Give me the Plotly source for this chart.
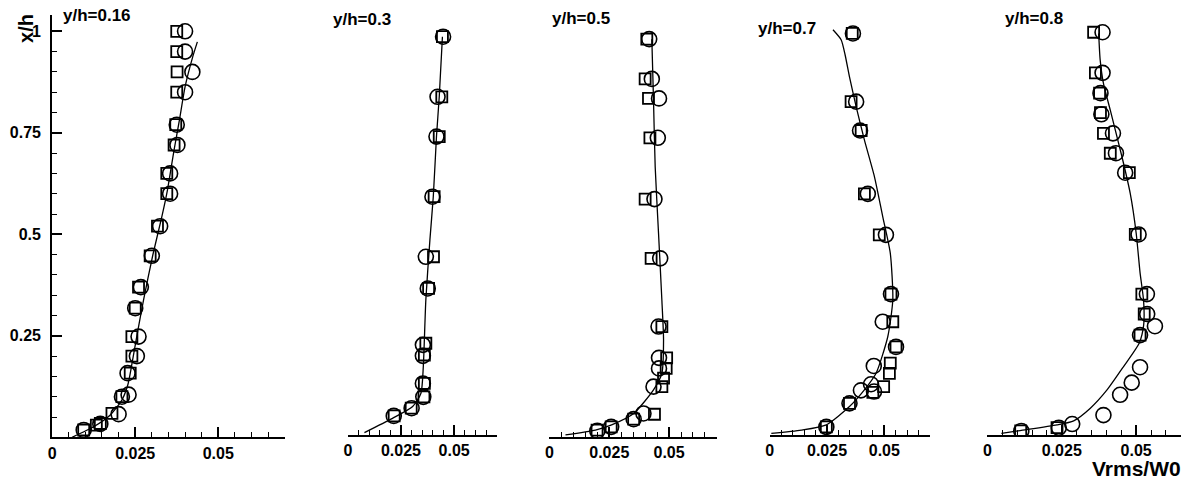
import plotly.graph_objects as go

W, H = 1188, 482

# ---- profile data: Vrms/W0 against x/h at five spanwise stations ----
titles = ["y/h=0.16", "y/h=0.3", "y/h=0.5", "y/h=0.7", "y/h=0.8"]
x_ticks = [0, 0.025, 0.05]
x_tick_labels = ["0", "0.025", "0.05"]
y_ticks = [0.25, 0.5, 0.75, 1.0]
y_tick_labels = ["0.25", "0.5", "0.75", "1"]

# y/h = 0.16
p1_sq_x = [0.0375, 0.0375, 0.0376, 0.0375, 0.0372, 0.0367, 0.0345, 0.0345, 0.0317, 0.0295,
           0.026, 0.025, 0.024, 0.024, 0.0235, 0.021, 0.018, 0.0145, 0.0133, 0.0095]
p1_sq_y = [1.0, 0.95, 0.90, 0.85, 0.77, 0.72, 0.65, 0.60, 0.52, 0.447,
           0.37, 0.318, 0.248, 0.20, 0.158, 0.10, 0.059, 0.034, 0.03, 0.018]
p1_ci_x = [0.040, 0.040, 0.0422, 0.040, 0.0375, 0.0377, 0.0355, 0.0355, 0.0325, 0.030,
           0.0267, 0.025, 0.026, 0.0255, 0.0227, 0.023, 0.021, 0.020, 0.0145, 0.0095]
p1_ci_y = [1.0, 0.95, 0.90, 0.85, 0.77, 0.72, 0.65, 0.60, 0.52, 0.447,
           0.37, 0.318, 0.248, 0.20, 0.158, 0.105, 0.10, 0.057, 0.033, 0.018]
p1_ln_x = [0.006, 0.0125, 0.0175, 0.021, 0.0228, 0.024, 0.0255, 0.0275, 0.0303, 0.033,
           0.0347, 0.0367, 0.0383, 0.040, 0.0423, 0.0437]
p1_ln_y = [0.0, 0.026, 0.055, 0.092, 0.13, 0.18, 0.25, 0.338, 0.449, 0.543,
           0.609, 0.708, 0.781, 0.863, 0.937, 0.974]

# y/h = 0.3
p2_sq_x = [0.0445, 0.0442, 0.043, 0.0406, 0.0403, 0.038, 0.0367, 0.036, 0.036, 0.0358, 0.0298, 0.0218]
p2_sq_y = [0.981, 0.833, 0.735, 0.587, 0.439, 0.361, 0.226, 0.197, 0.127, 0.094, 0.066, 0.047]
p2_ci_x = [0.0448, 0.0422, 0.0417, 0.0398, 0.0367, 0.0376, 0.0353, 0.0353, 0.0353, 0.0355, 0.030, 0.0216]
p2_ci_y = [0.981, 0.833, 0.735, 0.587, 0.439, 0.361, 0.222, 0.195, 0.127, 0.094, 0.066, 0.047]
p2_ln_x = [0.0078, 0.021, 0.0305, 0.0344, 0.0355, 0.0367, 0.0386, 0.0402, 0.0417, 0.043, 0.0445]
p2_ln_y = [0.006, 0.041, 0.07, 0.103, 0.168, 0.333, 0.48, 0.587, 0.735, 0.833, 0.981]

# y/h = 0.5
p3_sq_x = [0.0407, 0.040, 0.0414, 0.042, 0.040, 0.0425, 0.047, 0.049, 0.0488, 0.0477,
           0.047, 0.0439, 0.0352, 0.0258, 0.0199]
p3_sq_y = [0.98, 0.882, 0.834, 0.737, 0.586, 0.44, 0.272, 0.195, 0.169, 0.145,
           0.124, 0.056, 0.044, 0.025, 0.017]
p3_ci_x = [0.0417, 0.0428, 0.0458, 0.0453, 0.0439, 0.0463, 0.0456, 0.0458, 0.0458, 0.0435,
           0.0393, 0.0352, 0.0258, 0.0200]
p3_ci_y = [0.98, 0.882, 0.834, 0.737, 0.586, 0.44, 0.272, 0.195, 0.169, 0.124,
           0.058, 0.044, 0.025, 0.015]
p3_ln_x = [0.0067, 0.0192, 0.026, 0.0352, 0.0435, 0.047, 0.0477, 0.047, 0.0456, 0.0442, 0.0435, 0.0428]
p3_ln_y = [0.005, 0.017, 0.03, 0.058, 0.116, 0.157, 0.239, 0.337, 0.502, 0.666, 0.83, 0.98]

# y/h = 0.7
p4_sq_x = [0.0360, 0.0355, 0.0399, 0.0413, 0.0478, 0.0529, 0.0537, 0.0551, 0.0526, 0.0522,
           0.0497, 0.045, 0.0348, 0.0247]
p4_sq_y = [0.989, 0.821, 0.75, 0.594, 0.493, 0.347, 0.279, 0.217, 0.177, 0.152,
           0.119, 0.105, 0.078, 0.02]
p4_ci_x = [0.0363, 0.0377, 0.0394, 0.0428, 0.0507, 0.0529, 0.0493, 0.0551, 0.0454, 0.0442,
           0.0455, 0.0398, 0.0348, 0.0247]
p4_ci_y = [0.989, 0.821, 0.75, 0.594, 0.493, 0.347, 0.279, 0.217, 0.17, 0.125,
           0.107, 0.11, 0.078, 0.02]
p4_ln_x = [0.0007, 0.0138, 0.0247, 0.0348, 0.0413, 0.0464, 0.0515, 0.0537, 0.0526, 0.0493,
           0.0457, 0.0413, 0.0377, 0.0348, 0.0329, 0.0312, 0.0276]
p4_ln_y = [0.004, 0.012, 0.025, 0.07, 0.111, 0.152, 0.242, 0.333, 0.448, 0.538,
           0.636, 0.727, 0.809, 0.882, 0.936, 0.973, 0.998]

# y/h = 0.8
p5_sq_x = [0.0357, 0.0363, 0.0377, 0.038, 0.039, 0.0413, 0.0477, 0.0497, 0.0519, 0.0527,
           0.0513, 0.0234, 0.0112]
p5_sq_y = [0.992, 0.892, 0.842, 0.794, 0.743, 0.694, 0.646, 0.494, 0.347, 0.298,
           0.246, 0.018, 0.01]
p5_ci_x = [0.0387, 0.0387, 0.0380, 0.0383, 0.0422, 0.0432, 0.0463, 0.0508, 0.0536, 0.0537,
           0.0563, 0.0513, 0.0513, 0.0485, 0.0446, 0.039, 0.0285, 0.0240, 0.0114]
p5_ci_y = [0.992, 0.892, 0.842, 0.79, 0.743, 0.694, 0.646, 0.494, 0.347, 0.298,
           0.268, 0.246, 0.167, 0.129, 0.099, 0.049, 0.027, 0.018, 0.01]
p5_ln_x = [0.0047, 0.011, 0.0234, 0.029, 0.0346, 0.0402, 0.0457, 0.051, 0.0525, 0.0525,
           0.0513, 0.050, 0.048, 0.0452, 0.0413, 0.039, 0.0379, 0.0374]
p5_ln_y = [0.004, 0.011, 0.025, 0.035, 0.066, 0.111, 0.168, 0.226, 0.27, 0.33,
           0.40, 0.497, 0.595, 0.686, 0.80, 0.866, 0.924, 0.989]

panels = [
    (p1_sq_x, p1_sq_y, p1_ci_x, p1_ci_y, p1_ln_x, p1_ln_y),
    (p2_sq_x, p2_sq_y, p2_ci_x, p2_ci_y, p2_ln_x, p2_ln_y),
    (p3_sq_x, p3_sq_y, p3_ci_x, p3_ci_y, p3_ln_x, p3_ln_y),
    (p4_sq_x, p4_sq_y, p4_ci_x, p4_ci_y, p4_ln_x, p4_ln_y),
    (p5_sq_x, p5_sq_y, p5_ci_x, p5_ci_y, p5_ln_x, p5_ln_y),
]

# ---- panel placement (pixels): left edge, right edge, x max, baseline ----
frames = [
    (48.3, 281.7, 0.07, 437.3),
    (345.0, 494.3, 0.07, 435.0),
    (547.3, 715.3, 0.07, 437.0),
    (768.3, 929.3, 0.07, 435.0),
    (986.7, 1180.8, 0.065, 435.0),
]
Y_MAX = 1.04
PX_PER_Y = 406.0
# left edge / vertical centre of each station title
title_pos = [(57, 15), (328, 20), (548, 19), (755, 28), (1002, 19)]

FONT = "Liberation Sans, Arial, sans-serif"
fig = go.Figure()
layout = dict(
    width=W, height=H, margin=dict(l=0, r=0, t=0, b=0),
    paper_bgcolor="white", plot_bgcolor="white", showlegend=False,
    font=dict(family=FONT, color="black"),
)
annotations = []

for i, ((sx, sy, cx, cy, lx, ly), (x0, x1, xmax, yb)) in enumerate(zip(panels, frames)):
    n = "" if i == 0 else str(i + 1)
    xa, ya = "x" + n, "y" + n
    fig.add_trace(go.Scatter(x=lx, y=ly, xaxis=xa, yaxis=ya, mode="lines",
                             line=dict(color="black", width=1.3, shape="spline", smoothing=0.6),
                             hoverinfo="skip"))
    fig.add_trace(go.Scatter(x=sx, y=sy, xaxis=xa, yaxis=ya, mode="markers",
                             marker=dict(symbol="square-open", size=11, color="black",
                                         line=dict(width=1.8, color="black"))))
    fig.add_trace(go.Scatter(x=cx, y=cy, xaxis=xa, yaxis=ya, mode="markers",
                             marker=dict(symbol="circle-open", size=15, color="black",
                                         line=dict(width=1.6, color="black"))))
    ytop = yb - Y_MAX * PX_PER_Y
    layout["xaxis" + n] = dict(
        domain=[x0 / W, x1 / W], range=[0, xmax], anchor=ya,
        showgrid=False, zeroline=False, showline=True, linecolor="black", linewidth=2,
        ticks="inside", ticklen=10, tickwidth=1.5, tickcolor="black",
        tickvals=x_ticks, ticktext=x_tick_labels, ticklabelstandoff=0,
        tickfont=dict(family=FONT, size=16, weight="bold", color="black"),
        minor=dict(dtick=0.005, tick0=0, ticks="inside", ticklen=5, tickwidth=1.2, tickcolor="black"),
    )
    yaxis = dict(
        domain=[(H - yb) / H, (H - ytop) / H], range=[0, Y_MAX], anchor=xa,
        showgrid=False, zeroline=False,
    )
    if i == 0:
        yaxis.update(
            showline=True, linecolor="black", linewidth=2,
            ticks="inside", ticklen=10, tickwidth=1.5, tickcolor="black",
            tickvals=y_ticks, ticktext=y_tick_labels, ticklabelstandoff=6,
            tickfont=dict(family=FONT, size=16, weight="bold", color="black"),
            minor=dict(dtick=0.05, tick0=0, ticks="inside", ticklen=5, tickwidth=1.2, tickcolor="black"),
        )
    else:
        yaxis.update(visible=False)
    layout["yaxis" + n] = yaxis

    tx, ty = title_pos[i]
    annotations.append(dict(text=titles[i], x=tx / W, y=(H - ty) / H, xref="paper", yref="paper",
                            showarrow=False, xanchor="left", yanchor="middle",
                            font=dict(family=FONT, size=17, weight="bold", color="black")))

annotations.append(dict(text="x/h", x=22 / W, y=(H - 28) / H, xref="paper", yref="paper",
                        showarrow=False, textangle=-90, xanchor="center", yanchor="middle",
                        font=dict(family=FONT, size=20, weight="bold", color="black")))
annotations.append(dict(text="Vrms/W0", x=1182 / W, y=(H - 468.5) / H, xref="paper", yref="paper",
                        showarrow=False, xanchor="right", yanchor="middle", borderpad=0,
                        font=dict(family=FONT, size=21, weight="bold", color="black")))
layout["annotations"] = annotations
fig.update_layout(**layout)
fig.write_html("out.html")
